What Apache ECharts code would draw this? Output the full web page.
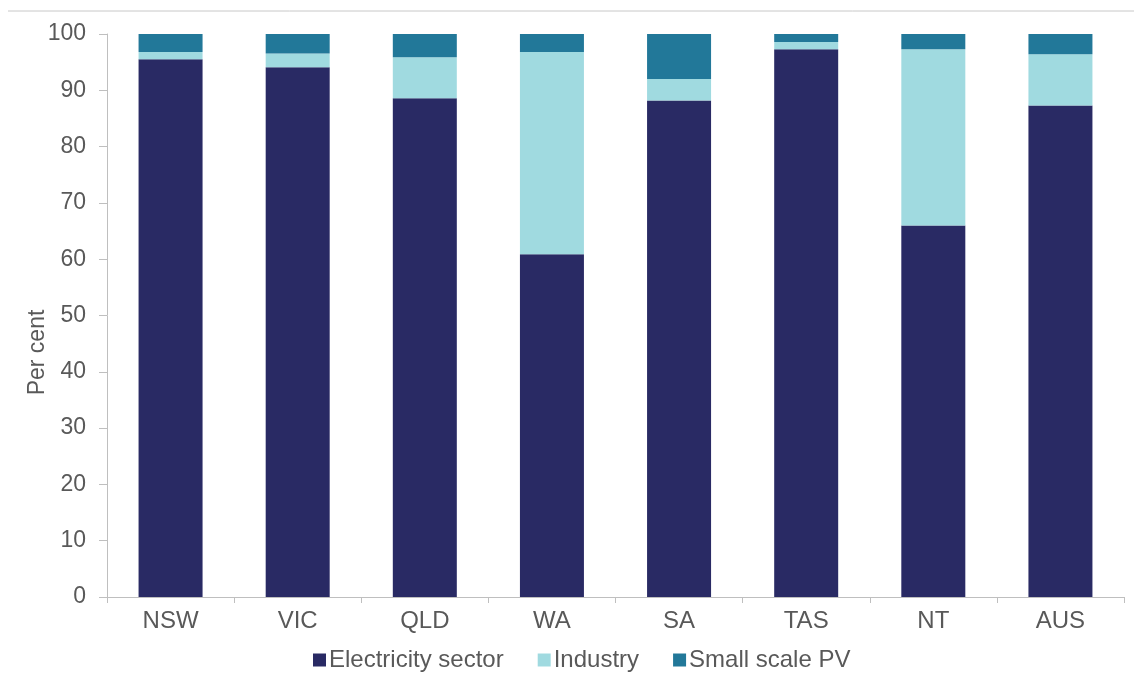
<!DOCTYPE html>
<html>
<head>
<meta charset="utf-8">
<script src="https://cdn.jsdelivr.net/npm/echarts@6/dist/echarts.min.js"></script>
<style>
  html, body { margin: 0; padding: 0; background: #fff; }
  #chart { width: 1134px; height: 684px; }
</style>
</head>
<body>
<div id="chart"></div>
<script>
// Share of generation by source, per state (per cent)
const categories = ['NSW', 'VIC', 'QLD', 'WA', 'SA', 'TAS', 'NT', 'AUS'];
const electricitySector = [95.5, 94.1, 88.6, 60.9, 88.2, 97.3, 66.0, 87.3];
const industry = [1.3, 2.45, 7.25, 35.9, 3.8, 1.3, 31.3, 9.1];
const smallScalePV = [3.2, 3.45, 4.15, 3.2, 8.0, 1.4, 2.7, 3.6];
const yTicks = { min: 0, max: 100, interval: 10 };

const FONT = "'Liberation Sans', Arial, sans-serif";
const TEXT = '#595959';
const AXIS = '#bfbfbf';

const chart = echarts.init(document.getElementById('chart'));

const barSeries = (name, data, color) => ({
  name,
  type: 'bar',
  stack: 'total',
  data,
  barWidth: 64,
  itemStyle: { color },
  emphasis: { disabled: true }
});

chart.setOption({
  animation: false,
  textStyle: { fontFamily: FONT },
  grid: { left: 107, right: 10, top: 34, bottom: 87, containLabel: false },
  graphic: [{
    type: 'line',
    shape: { x1: 8, y1: 11, x2: 1134, y2: 11 },
    style: { stroke: '#c8c8c8', lineWidth: 1 }
  }],
  legend: {
    left: 308,
    top: 643,
    itemWidth: 13,
    itemHeight: 13,
    itemGap: 34,
    icon: 'rect',
    textStyle: { fontFamily: FONT, fontSize: 24, color: TEXT, padding: [0, 0, 0, -2] },
    data: ['Electricity sector', 'Industry', 'Small scale PV']
  },
  xAxis: {
    type: 'category',
    data: categories,
    axisLine: { show: true, lineStyle: { color: AXIS, width: 1 } },
    axisTick: { show: true, alignWithLabel: false, length: 6, lineStyle: { color: AXIS } },
    axisLabel: { fontFamily: FONT, fontSize: 24, color: TEXT, margin: 12 }
  },
  yAxis: {
    type: 'value',
    min: yTicks.min,
    max: yTicks.max,
    interval: yTicks.interval,
    name: 'Per cent',
    nameLocation: 'middle',
    nameGap: 58,
    nameMoveOverlap: false,
    nameTextStyle: { fontFamily: FONT, fontSize: 23, color: TEXT, padding: [0, 74, 0, 0] },
    axisLine: { show: true, lineStyle: { color: AXIS, width: 1 } },
    axisTick: { show: true, length: 8, lineStyle: { color: AXIS } },
    splitLine: { show: false },
    axisLabel: { fontFamily: FONT, fontSize: 23, color: TEXT, margin: 21 }
  },
  series: [
    barSeries('Electricity sector', electricitySector, '#292a64'),
    barSeries('Industry', industry, '#a0dae0'),
    barSeries('Small scale PV', smallScalePV, '#227899')
  ]
});
</script>
</body>
</html>
